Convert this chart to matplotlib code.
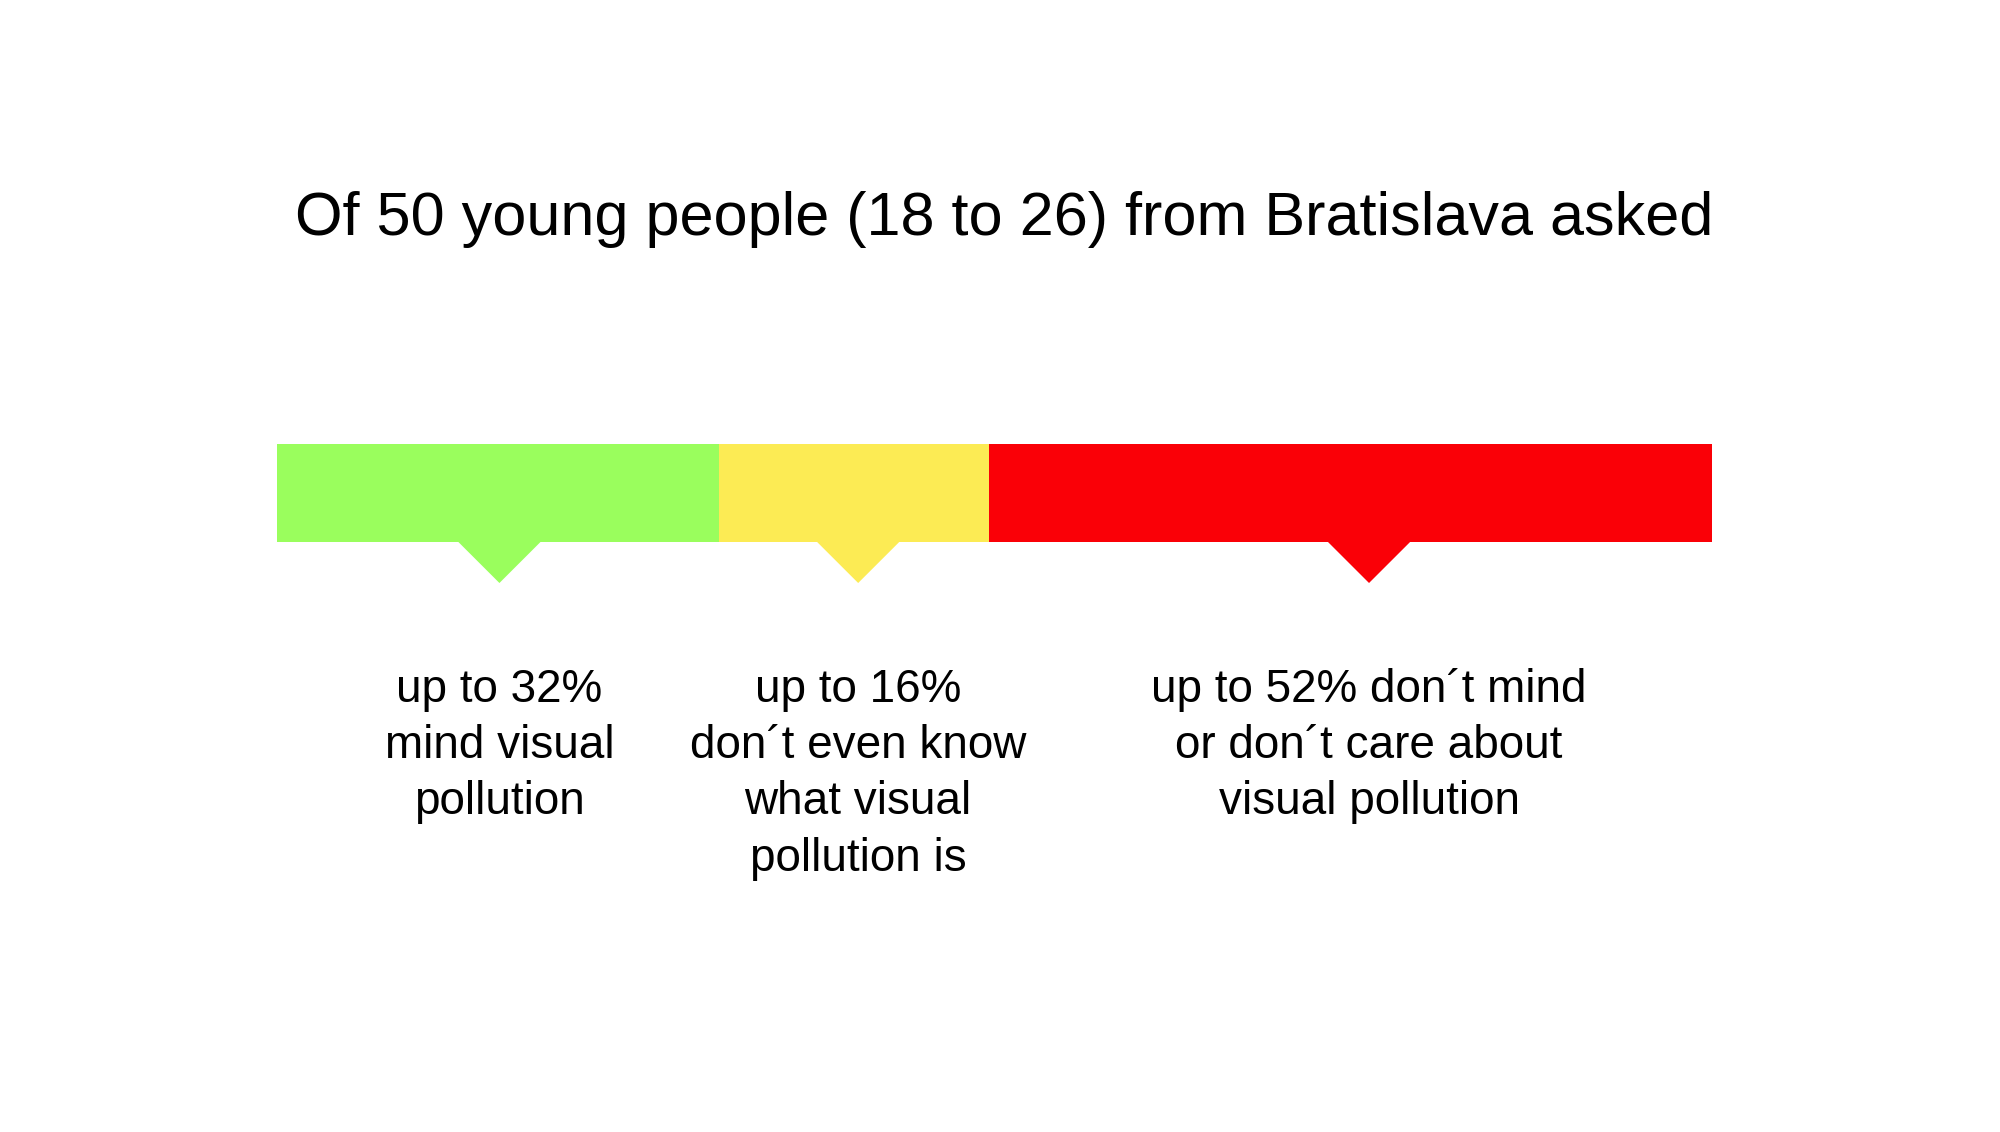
import numpy as np
import matplotlib.pyplot as plt
from matplotlib.patches import Polygon

plt.rcParams['font.family'] = ['Liberation Sans', 'DejaVu Sans']

# Survey data (shares, label positions in % of bar)
title = "Of 50 young people (18 to 26) from Bratislava asked"
shares = [30.8, 18.8, 50.4]
colors = ['#9AFE5D', '#FCEB54', '#FA0007']
pointer_pos = [15.5, 40.5, 76.1]
labels = [
    "up to 32%\nmind visual\npollution",
    "up to 16%\ndon\u00b4t even know\nwhat visual\npollution is",
    "up to 52% don\u00b4t mind\nor don\u00b4t care about\nvisual pollution",
]

fig = plt.figure(figsize=(20, 11.32), dpi=100)
fig.patch.set_facecolor('white')

# axes covers the bar horizontally, full height in pixel units vertically
ax = fig.add_axes([0.1385, 0, 0.7175, 1])
ax.set_xlim(0, 100)
ax.set_ylim(1132, 0)
ax.axis('off')

lefts = np.concatenate([[0], np.cumsum(shares)[:-1]])
ax.barh(493, shares, left=lefts, height=98, color=colors, linewidth=0)

# little pointers under each segment
half_w = 2.93
for pos, c in zip(pointer_pos, colors):
    tri = Polygon([[pos - half_w, 541], [pos + half_w, 541], [pos, 583]],
                  closed=True, color=c, linewidth=0)
    ax.add_patch(tri)

for pos, lab in zip(pointer_pos, labels):
    ax.text(pos, 668, lab, ha='center', va='top', fontsize=33,
            linespacing=1.36, color='black')

fig.text(0.502, 1 - 220 / 1132, title, ha='center', va='center',
         fontsize=44, color='black')

fig.savefig('out.png', dpi=100, facecolor='white')
